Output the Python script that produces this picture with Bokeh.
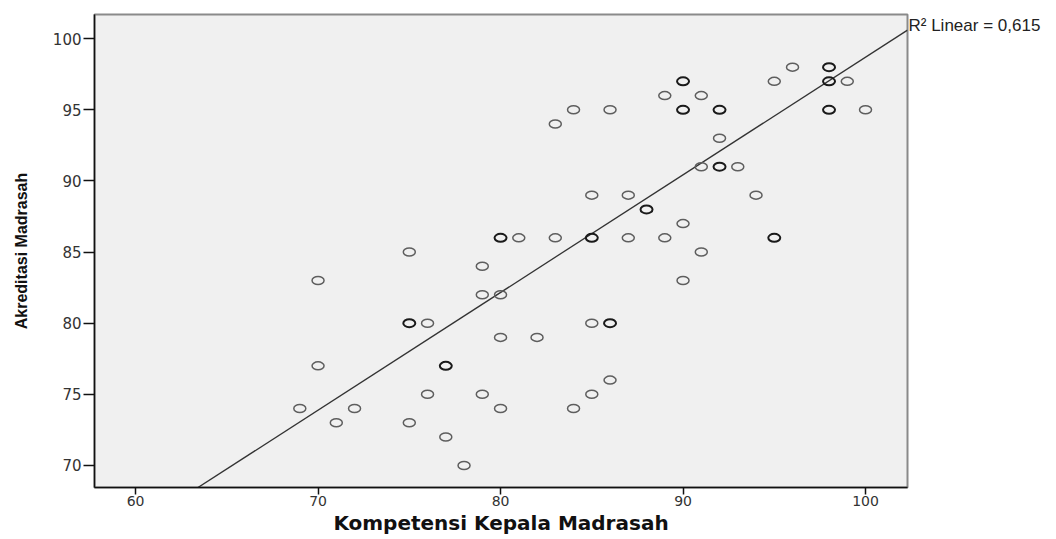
from bokeh.plotting import figure
from bokeh.models import (ColumnDataSource, FixedTicker, LinearAxis,
                          CustomJSTickFormatter)
from bokeh.embed import file_html
from bokeh.resources import INLINE

kompetensi = [69, 70, 70, 71, 72, 75, 75, 75, 76, 76, 77, 77, 78, 79, 79, 79,
              80, 80, 80, 80, 81, 82, 83, 83, 84, 84, 85, 85, 85, 85, 86, 86,
              86, 87, 87, 88, 89, 89, 90, 90, 90, 90, 91, 91, 91, 92, 92, 92,
              93, 94, 95, 95, 96, 98, 98, 98, 99, 100]
akreditasi = [74, 83, 77, 73, 74, 85, 80, 73, 80, 75, 77, 72, 70, 84, 82, 75,
              86, 82, 79, 74, 86, 79, 94, 86, 95, 74, 89, 86, 80, 75, 95, 80,
              76, 89, 86, 88, 96, 86, 97, 95, 87, 83, 96, 91, 85, 95, 93, 91,
              91, 89, 97, 86, 98, 98, 97, 95, 97, 95]
count = [1, 1, 1, 1, 1, 1, 2, 1, 1, 1, 2, 1, 1, 1, 1, 1,
         2, 1, 1, 1, 1, 1, 1, 1, 1, 1, 1, 2, 1, 1, 1, 2,
         1, 1, 1, 2, 1, 1, 2, 2, 1, 1, 1, 1, 1, 2, 1, 2,
         1, 1, 1, 2, 1, 2, 2, 2, 1, 1]
# Linear fit line (y = a + b*x)
fit_intercept = 16.0
fit_slope = 0.827
r2_text = "R\u00b2 Linear = 0,615"
x_ticks = [60, 70, 80, 90, 100]
y_ticks = [70, 75, 80, 85, 90, 95, 100]

x_lo, x_hi = 57.75, 102.3
y_lo, y_hi = 68.45, 101.7

colors = ["#1a1a1a" if c > 1 else "#5e5e5e" for c in count]
widths = [2.0 if c > 1 else 1.5 for c in count]
src = ColumnDataSource(dict(x=kompetensi, y=akreditasi, c=colors, w=widths))

fx = [x_lo, x_hi]
fy = [fit_intercept + fit_slope * v for v in fx]

p = figure(width=1054, height=537, output_backend="svg", toolbar_location=None,
           x_range=(x_lo, x_hi), y_range=(y_lo, y_hi),
           min_border_left=94, min_border_top=14, min_border_right=147,
           min_border_bottom=50)
p.background_fill_color = "#f0f0f0"
p.border_fill_color = "white"
p.outline_line_color = "#8a8a8a"
p.outline_line_width = 2
p.xgrid.visible = False
p.ygrid.visible = False

p.line(fx, fy, line_color="#333333", line_width=1.3)
p.ellipse(x="x", y="y", width=12, height=8, width_units="screen",
          height_units="screen", fill_color=None, line_color="c",
          line_width="w", source=src)

for ax in (p.xaxis[0], p.yaxis[0]):
    ax.axis_line_color = "#111111"
    ax.axis_line_width = 1.5
    ax.major_tick_line_color = "#111111"
    ax.major_tick_line_width = 1.5
    ax.minor_tick_line_color = None
    ax.major_tick_in = 0
    ax.major_label_text_font = "DejaVu Sans"
    ax.major_label_text_color = "#333333"
    ax.axis_label_text_font_style = "bold"
    ax.axis_label_text_color = "#111111"

p.xaxis.ticker = FixedTicker(ticks=x_ticks)
p.yaxis.ticker = FixedTicker(ticks=y_ticks)
p.xaxis.major_label_text_font_size = "14px"
p.yaxis.major_label_text_font_size = "15px"
p.xaxis.major_tick_out = 7
p.yaxis.major_tick_out = 11
p.xaxis.major_label_standoff = 1
p.yaxis.major_label_standoff = 2

p.xaxis.axis_label = "Kompetensi Kepala Madrasah"
p.xaxis.axis_label_text_font = "DejaVu Sans"
p.xaxis.axis_label_text_font_size = "20px"
p.xaxis.axis_label_standoff = 2

p.yaxis.axis_label = "Akreditasi Madrasah"
p.yaxis.axis_label_text_font = "Liberation Sans"
p.yaxis.axis_label_text_font_size = "16px"
p.yaxis.axis_label_standoff = 20

# R² annotation placed beside the end of the fit line (right of the frame)
r2_y = fy[1] + 0.35
r2_axis = LinearAxis(ticker=FixedTicker(ticks=[r2_y]),
                     formatter=CustomJSTickFormatter(args=dict(t=r2_text),
                                                     code="return t"))
r2_axis.axis_line_color = None
r2_axis.major_tick_line_color = None
r2_axis.minor_tick_line_color = None
r2_axis.major_tick_out = 0
r2_axis.major_tick_in = 0
r2_axis.major_label_standoff = 1
r2_axis.major_label_text_font = "Liberation Sans"
r2_axis.major_label_text_font_size = "17px"
r2_axis.major_label_text_color = "#222222"
p.add_layout(r2_axis, "right")

open("out.html", "w").write(file_html(p, INLINE))
